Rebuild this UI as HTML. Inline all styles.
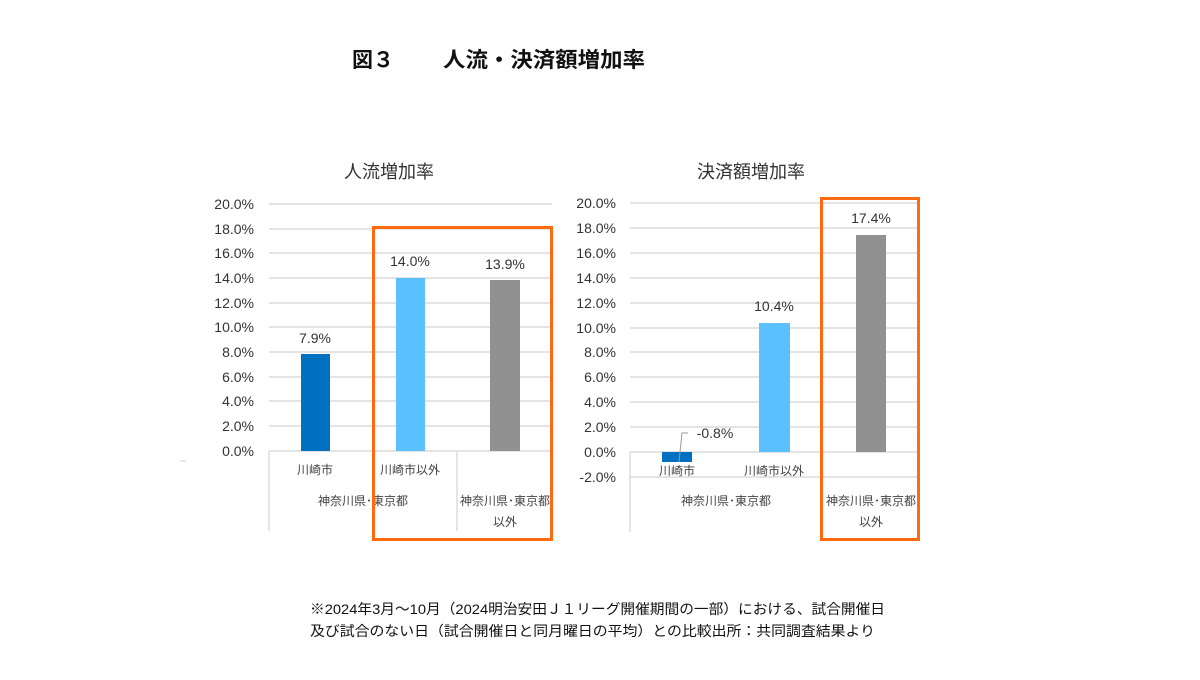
<!DOCTYPE html>
<html><head><meta charset="utf-8"><style>
body{margin:0;background:#fff;}
svg text{font-family:"Liberation Sans","Noto Sans CJK JP",sans-serif;}
</style></head><body>
<svg width="1200" height="675" xmlns="http://www.w3.org/2000/svg">
<rect width="1200" height="675" fill="#fff"/>
<text x="352" y="67" font-size="21" font-weight="bold" fill="#111">図３</text>
<text x="443" y="67" font-size="21" font-weight="bold" fill="#111" textLength="202" lengthAdjust="spacingAndGlyphs">人流・決済額増加率</text>

<!-- Left chart -->
<text x="389" y="178" font-size="18" fill="#333" text-anchor="middle">人流増加率</text>
<g stroke="#dcdcdc" stroke-width="1.5">
<line x1="269" y1="204" x2="552" y2="204"/><line x1="269" y1="229" x2="552" y2="229"/>
<line x1="269" y1="253" x2="552" y2="253"/><line x1="269" y1="278" x2="552" y2="278"/>
<line x1="269" y1="303" x2="552" y2="303"/><line x1="269" y1="327" x2="552" y2="327"/>
<line x1="269" y1="352" x2="552" y2="352"/><line x1="269" y1="377" x2="552" y2="377"/>
<line x1="269" y1="401" x2="552" y2="401"/><line x1="269" y1="426" x2="552" y2="426"/>
<line x1="269" y1="451" x2="552" y2="451"/>
<line x1="269" y1="451" x2="269" y2="531"/><line x1="457" y1="451" x2="457" y2="531"/>
</g>
<g font-size="14" fill="#333" text-anchor="end">
<text x="254" y="209">20.0%</text><text x="254" y="234">18.0%</text><text x="254" y="258">16.0%</text>
<text x="254" y="283">14.0%</text><text x="254" y="308">12.0%</text><text x="254" y="332">10.0%</text>
<text x="254" y="357">8.0%</text><text x="254" y="382">6.0%</text><text x="254" y="406">4.0%</text>
<text x="254" y="431">2.0%</text><text x="254" y="456">0.0%</text>
</g>
<rect x="301" y="354" width="29" height="97" fill="#0070c0"/>
<rect x="396" y="278" width="29" height="173" fill="#5bc0ff"/>
<rect x="490" y="280" width="30" height="171" fill="#919191"/>
<g font-size="14" fill="#333" text-anchor="middle">
<text x="315" y="343">7.9%</text><text x="410" y="266">14.0%</text><text x="505" y="269">13.9%</text>
</g>
<g font-size="12" fill="#444" text-anchor="middle">
<text x="315" y="474">川崎市</text><text x="410" y="474">川崎市以外</text>
<text x="363" y="505">神奈川県･東京都</text>
<text x="505" y="505">神奈川県･東京都</text><text x="505" y="526">以外</text>
</g>
<rect x="373.5" y="227.5" width="178" height="312" fill="none" stroke="#ff6a10" stroke-width="3"/>
<line x1="180" y1="461" x2="186" y2="461" stroke="#ccc"/>

<!-- Right chart -->
<text x="751" y="178" font-size="18" fill="#333" text-anchor="middle">決済額増加率</text>
<g stroke="#dcdcdc" stroke-width="1.5">
<line x1="630" y1="203" x2="918" y2="203"/><line x1="630" y1="228" x2="918" y2="228"/>
<line x1="630" y1="253" x2="918" y2="253"/><line x1="630" y1="278" x2="918" y2="278"/>
<line x1="630" y1="303" x2="918" y2="303"/><line x1="630" y1="328" x2="918" y2="328"/>
<line x1="630" y1="352" x2="918" y2="352"/><line x1="630" y1="377" x2="918" y2="377"/>
<line x1="630" y1="402" x2="918" y2="402"/><line x1="630" y1="427" x2="918" y2="427"/>
<line x1="630" y1="452" x2="918" y2="452"/><line x1="630" y1="477" x2="918" y2="477"/>
<line x1="630" y1="452" x2="630" y2="532"/>
</g>
<g font-size="14" fill="#333" text-anchor="end">
<text x="616" y="208">20.0%</text><text x="616" y="233">18.0%</text><text x="616" y="258">16.0%</text>
<text x="616" y="283">14.0%</text><text x="616" y="308">12.0%</text><text x="616" y="333">10.0%</text>
<text x="616" y="357">8.0%</text><text x="616" y="382">6.0%</text><text x="616" y="407">4.0%</text>
<text x="616" y="432">2.0%</text><text x="616" y="457">0.0%</text><text x="616" y="482">-2.0%</text>
</g>
<rect x="662" y="452" width="30" height="10" fill="#0070c0"/>
<rect x="759" y="323" width="31" height="129" fill="#5bc0ff"/>
<rect x="856" y="235" width="30" height="217" fill="#919191"/>
<polyline points="679,462 682,433 688,433" fill="none" stroke="#999" stroke-width="1"/>
<g font-size="14" fill="#333" text-anchor="middle">
<text x="715" y="438">-0.8%</text><text x="774" y="311">10.4%</text><text x="871" y="223">17.4%</text>
</g>
<g font-size="12" fill="#444" text-anchor="middle">
<text x="677" y="475">川崎市</text><text x="774" y="475">川崎市以外</text>
<text x="726" y="505">神奈川県･東京都</text>
<text x="871" y="505">神奈川県･東京都</text><text x="871" y="526">以外</text>
</g>
<rect x="821.5" y="198.5" width="97" height="341" fill="none" stroke="#ff6a10" stroke-width="3"/>

<g font-size="14" fill="#111">
<text x="310" y="614" textLength="575" lengthAdjust="spacingAndGlyphs">※2024年3月～10月（2024明治安田Ｊ１リーグ開催期間の一部）における、試合開催日</text>
<text x="310" y="636" textLength="565" lengthAdjust="spacingAndGlyphs">及び試合のない日（試合開催日と同月曜日の平均）との比較出所：共同調査結果より</text>
</g>
</svg>
</body></html>
